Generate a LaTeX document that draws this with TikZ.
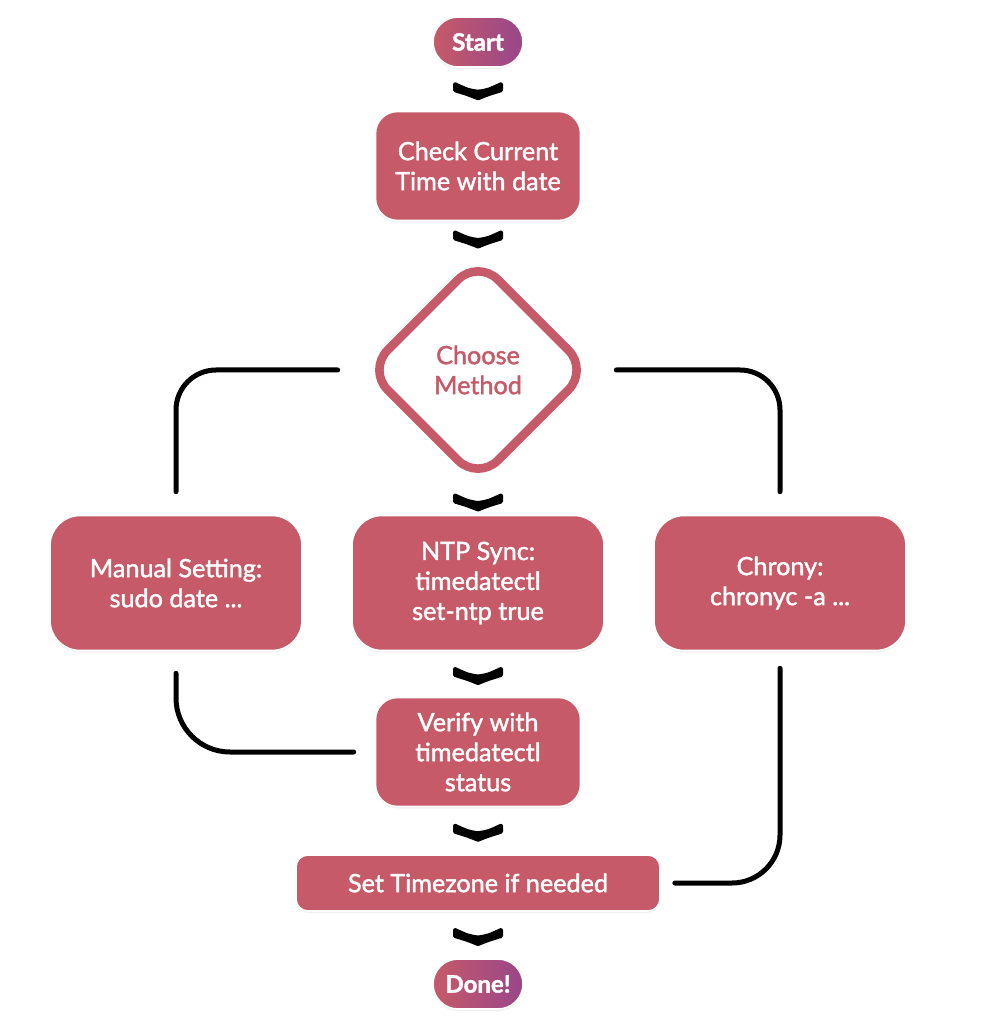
\documentclass[tikz,border=0pt]{standalone}
\usepackage{fontspec}
\setmainfont{Lato}[RawFeature={embolden=1.6}]
\usepackage{xcolor}
\usetikzlibrary{positioning}
\usetikzlibrary{shapes.geometric}
\usetikzlibrary{decorations.markings}
\usetikzlibrary{shadows}
\definecolor{rose}{RGB}{198,90,104}
\definecolor{plum}{RGB}{152,70,138}

\begin{document}
\begin{tikzpicture}[x=0.5pt,y=-0.5pt,
                every node/.style={font=\fontsize{12.6}{15}\selectfont,text=white,align=center},
                box/.style={fill=rose,draw=white,line width=0.8pt,rounded corners=11pt,
                        minimum width=102.5pt,minimum height=54.5pt,inner sep=0pt,
                        drop shadow={shadow xshift=0pt,shadow yshift=-1pt,opacity=0.12}},
                wide/.style={box,minimum width=126pt,minimum height=67.5pt,rounded corners=15pt},
                pill/.style={box,minimum width=45pt,minimum height=25pt,rounded corners=12.5pt,
                        left color=rose,right color=plum,font=\bfseries\fontsize{12}{15}\selectfont},
                choice/.style={diamond,draw=rose,fill=white,line width=4.3pt,rounded corners=14pt,
                        minimum width=112pt,minimum height=112pt,inner sep=0pt,text=rose},
                chev/.style={postaction={decorate},decoration={markings,mark=at position 0.5 with
                        {\filldraw[line width=2pt,line join=round]
                        (-2.5pt,-11.5pt) .. controls (0.5pt,-5pt) .. (1.25pt,0pt)
                        .. controls (0.5pt,5pt) .. (-2.5pt,11.5pt) -- (0.5pt,11.5pt)
                        .. controls (2.5pt,5pt) .. (4.5pt,0pt)
                        .. controls (2.5pt,-5pt) .. (0.5pt,-11.5pt) -- cycle;}}},
                link/.style={draw,line width=2.5pt,line cap=round,rounded corners=20pt}]
    \useasboundingbox (0,0) rectangle (1000,1031);

    \node[pill] (start) at (478,42) {Start};
    \node[box] (check) at (478,166) {Check Current\\Time with date};
    \node[choice] (choose) at (478,370) {Choose\\Method};
    \node[wide] (manual) at (176,583) {Manual Setting:\\sudo date ...};
    \node[wide] (ntp) at (478,583) {NTP Sync:\\timedatectl\\set-ntp true};
    \node[wide] (chrony) at (780,583) {Chrony:\\chronyc -a ...};
    \node[box] (verify) at (478,752) {Verify with\\timedatectl\\status};
    \node[box,minimum width=182pt,minimum height=28pt,rounded corners=6pt] (zone) at (478,883) {Set Timezone if needed};
    \node[pill] (done) at (478,984) {Done!};

    \path[chev] (start) -- (check);
    \path[chev] (check) -- (choose);
    \path[chev] (choose) -- (ntp);
    \path[chev] (ntp) -- (verify);
    \path[chev] (verify) -- (zone);
    \path[chev] (zone) -- (done);

    \draw[link,shorten <=12pt,shorten >=11.5pt] (choose.west) -| (manual.north);
    \draw[link,shorten <=11pt,shorten >=11.5pt] (choose.east) -| (chrony.north);
    \draw[link,rounded corners=27pt,shorten <=11pt,shorten >=10.5pt] (manual.south) |- (verify.west);
    \draw[link,rounded corners=24pt,shorten <=8.5pt,shorten >=7pt] (chrony.south) |- (zone.east);
\end{tikzpicture}
\end{document}
